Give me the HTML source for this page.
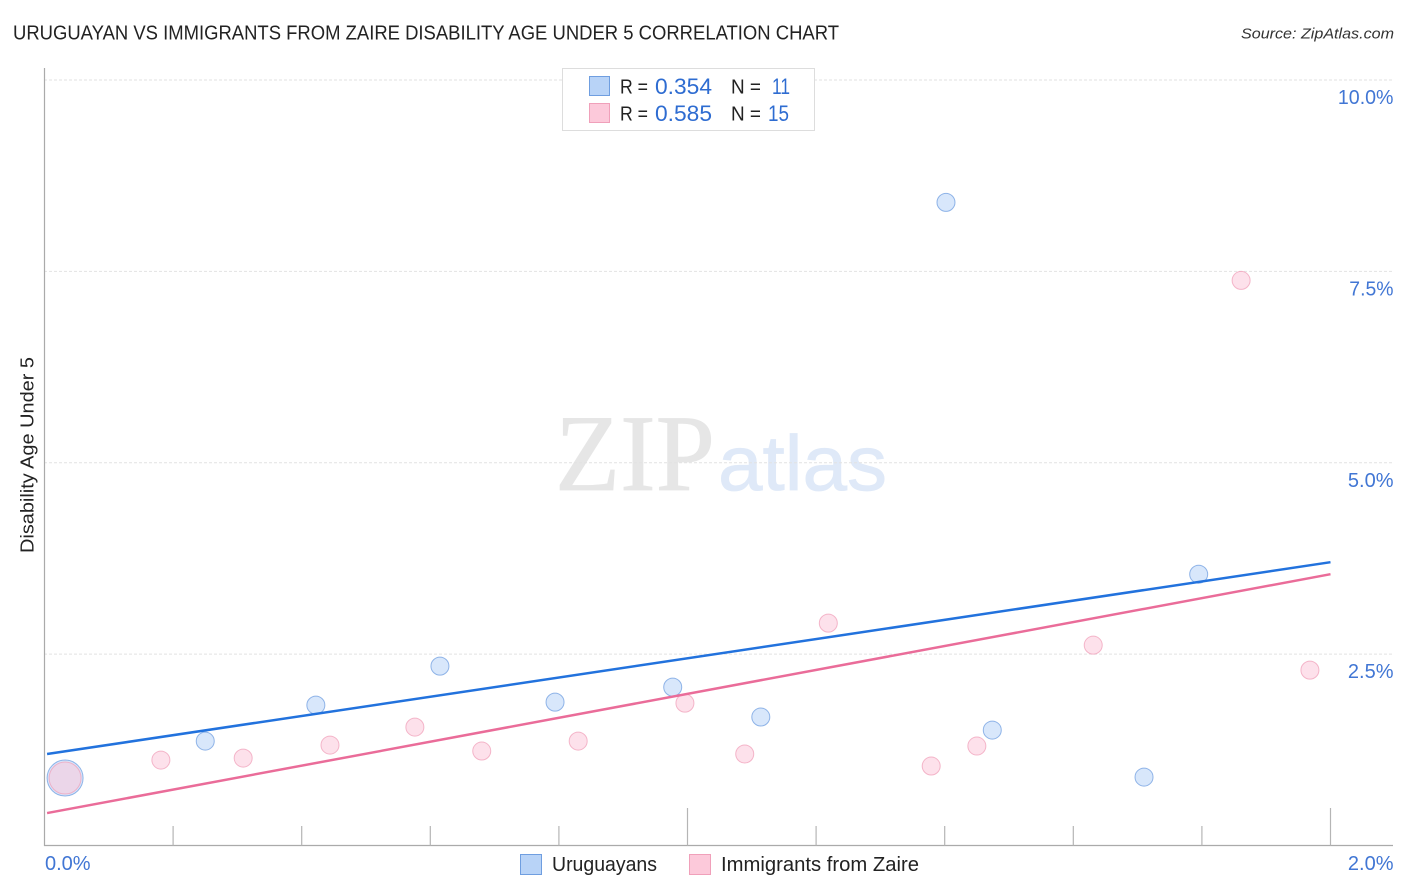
<!DOCTYPE html>
<html lang="en">
<head>
<meta charset="utf-8">
<title>Uruguayan vs Immigrants from Zaire Disability Age Under 5 Correlation Chart</title>
<style>
  html, body { margin: 0; padding: 0; background: #fff; }
  body { width: 1406px; height: 892px; overflow: hidden; }
  svg { display: block; font-family: "Liberation Sans", sans-serif; }
</style>
</head>
<body>
<svg id="chart" width="1406" height="892" viewBox="0 0 1406 892" xmlns="http://www.w3.org/2000/svg">
  <rect x="0" y="0" width="1406" height="892" fill="#ffffff"/>
  <text x="13" y="39.5" font-size="20" fill="#222222" textLength="826" lengthAdjust="spacingAndGlyphs">URUGUAYAN VS IMMIGRANTS FROM ZAIRE DISABILITY AGE UNDER 5 CORRELATION CHART</text>
  <text x="1241" y="38.5" font-size="15" font-style="italic" fill="#333333" textLength="153" lengthAdjust="spacingAndGlyphs">Source: ZipAtlas.com</text>

  <g>
    <text x="555" y="490" font-family="'Liberation Serif', serif" font-size="109" fill="#e6e6e6" stroke="#e6e6e6" stroke-width="0.8" textLength="160" lengthAdjust="spacingAndGlyphs">ZIP</text>
    <text x="718" y="490" font-size="78" fill="#dfe9f8" stroke="#dfe9f8" stroke-width="0.8" textLength="169" lengthAdjust="spacingAndGlyphs">atlas</text>
  </g>

  <g id="grid"></g>
  <g id="axes"></g>
  <g id="points-a"></g>
  <g id="points-b"></g>
  <g id="lines"></g>

  <text transform="translate(33.5 553) rotate(-90)" font-size="18" fill="#222222" textLength="196" lengthAdjust="spacingAndGlyphs">Disability Age Under 5</text>

  <g>
    <rect x="562.5" y="68.5" width="252" height="62" fill="#ffffff" stroke="#dddddd"/>
    <rect x="589.5" y="76.5" width="20" height="19" fill="#b8d3f7" stroke="#6f9ee0"/>
    <rect x="589.5" y="103.5" width="20" height="19" fill="#fcc9da" stroke="#f0a0ba"/>
    <text x="620" y="93.5" font-size="20" fill="#222222" textLength="28" lengthAdjust="spacingAndGlyphs">R =</text>
    <text x="655" y="94" font-size="22" fill="#2e6cd1" textLength="57" lengthAdjust="spacingAndGlyphs">0.354</text>
    <text x="731" y="93.5" font-size="20" fill="#222222" textLength="30" lengthAdjust="spacingAndGlyphs">N =</text>
    <text x="772" y="94" font-size="22" fill="#2e6cd1" textLength="18" lengthAdjust="spacingAndGlyphs">11</text>
    <text x="620" y="120.5" font-size="20" fill="#222222" textLength="28" lengthAdjust="spacingAndGlyphs">R =</text>
    <text x="655" y="121" font-size="22" fill="#2e6cd1" textLength="57" lengthAdjust="spacingAndGlyphs">0.585</text>
    <text x="731" y="120.5" font-size="20" fill="#222222" textLength="30" lengthAdjust="spacingAndGlyphs">N =</text>
    <text x="768" y="121" font-size="22" fill="#2e6cd1" textLength="21" lengthAdjust="spacingAndGlyphs">15</text>
  </g>

  <g>
    <rect x="520.5" y="854.5" width="21" height="20" fill="#b8d3f7" stroke="#6f9ee0"/>
    <text x="552" y="871" font-size="20" fill="#222222" textLength="105" lengthAdjust="spacingAndGlyphs">Uruguayans</text>
    <rect x="689.5" y="854.5" width="21" height="20" fill="#fcc9da" stroke="#f0a0ba"/>
    <text x="721" y="871" font-size="20" fill="#222222" textLength="198" lengthAdjust="spacingAndGlyphs">Immigrants from Zaire</text>
  </g>
</svg>
<script>
// Chart data
const xTickValues = [0.2, 0.4, 0.6, 0.8, 1.0, 1.2, 1.4, 1.6, 1.8, 2.0];
const majorXTicks = [1.0, 2.0];
const yTickValues = [2.5, 5.0, 7.5, 10.0];
const yTickLabels = ["2.5%", "5.0%", "7.5%", "10.0%"];
const xEndLabels = ["0.0%", "2.0%"];

const uruguayanX = [0.250, 0.422, 0.615, 0.794, 0.977, 1.114, 1.402, 1.474, 1.710, 1.795];
const uruguayanY = [1.364, 1.834, 2.343, 1.873, 2.069, 1.678, 8.401, 1.508, 0.894, 3.544];
const uruguayanLargeX = 0.032;
const uruguayanLargeY = 0.881;

const zaireX = [0.181, 0.309, 0.444, 0.576, 0.680, 0.830, 0.996, 1.089, 1.219, 1.379, 1.450, 1.631, 1.861, 1.968];
const zaireY = [1.116, 1.142, 1.312, 1.547, 1.234, 1.364, 1.860, 1.195, 2.905, 1.038, 1.299, 2.617, 7.382, 2.291];
const zaireLargeX = 0.032;
const zaireLargeY = 0.881;

const uruguayanTrendX = [0.004, 2.0];
const uruguayanTrendY = [1.195, 3.701];
const zaireTrendX = [0.004, 2.0];
const zaireTrendY = [0.424, 3.544];

// Axis functions
function xScale(v) { return 44.5 + v * 643; }
function yScale(v) { return 845.5 - v * 76.55; }

const SVGNS = 'http://www.w3.org/2000/svg';
function make(tag, parentId, attrs) {
  const el = document.createElementNS(SVGNS, tag);
  for (const k in attrs) el.setAttribute(k, attrs[k]);
  document.getElementById(parentId).appendChild(el);
  return el;
}

// Fitted label width to mimic the reference typeface
function fitLabel(el, text) {
  const em = { '%': 0.88, '.': 0.26 };
  let w = 0;
  for (const c of text) {
    if (c in em) w += em[c] * 20;
    else if (c === '1' || c === '7') w += 0.5 * 20;
    else w += 0.57 * 20;
  }
  el.setAttribute('textLength', w.toFixed(1));
  el.setAttribute('lengthAdjust', 'spacingAndGlyphs');
}

// Gridlines and y tick labels
yTickValues.forEach(function (v, i) {
  const line = make('line', 'grid', { x1: 44, x2: 1393, y1: yScale(v), y2: yScale(v), stroke: '#e2e2e2', 'stroke-width': 1, 'stroke-dasharray': '3 2' });
  
  
  const label = make('text', 'axes', { x: 1393.5, y: yScale(v) + 24, 'text-anchor': 'end', 'font-size': 20, fill: '#4176d4' });
  label.textContent = yTickLabels[i];
  fitLabel(label, yTickLabels[i]);
  
  
});

// Axes
const yAxis = make('line', 'axes', { x1: 44.5, x2: 44.5, y1: 68, y2: 846, stroke: '#aaaaaa', 'stroke-width': 1.2 });


const xAxis = make('line', 'axes', { x1: 44, x2: 1393, y1: 845.5, y2: 845.5, stroke: '#aaaaaa', 'stroke-width': 1.2 });



xTickValues.forEach(function (v) {
  const isMajor = majorXTicks.indexOf(v) !== -1;
  const tick = make('line', 'axes', { x1: xScale(v), x2: xScale(v), y1: isMajor ? 808 : 826, y2: 845.5, stroke: '#b5b5b5', 'stroke-width': 1.2 });
  
  
});

const xLabelLeft = make('text', 'axes', { x: 45, y: 870, 'font-size': 20, fill: '#4176d4' });
xLabelLeft.textContent = xEndLabels[0];
fitLabel(xLabelLeft, xEndLabels[0]);


const xLabelRight = make('text', 'axes', { x: 1393.5, y: 870, 'text-anchor': 'end', 'font-size': 20, fill: '#4176d4' });
xLabelRight.textContent = xEndLabels[1];
fitLabel(xLabelRight, xEndLabels[1]);



// Points
uruguayanX.forEach(function (v, i) {
  const p = make('circle', 'points-a', { cx: xScale(v), cy: yScale(uruguayanY[i]), r: 9, fill: '#b8d3f7', 'fill-opacity': 0.55, stroke: '#6f9ee0', 'stroke-opacity': 0.75, 'stroke-width': 1 });
  
  
});
const bigA = make('circle', 'points-a', { cx: xScale(uruguayanLargeX), cy: yScale(uruguayanLargeY), r: 18, fill: '#b8d3f7', 'fill-opacity': 0.55, stroke: '#6f9ee0', 'stroke-opacity': 0.75, 'stroke-width': 1 });



zaireX.forEach(function (v, i) {
  const p = make('circle', 'points-b', { cx: xScale(v), cy: yScale(zaireY[i]), r: 9, fill: '#fcc9da', 'fill-opacity': 0.55, stroke: '#f0a0ba', 'stroke-opacity': 0.75, 'stroke-width': 1 });
  
  
});
const bigB = make('circle', 'points-b', { cx: xScale(zaireLargeX), cy: yScale(zaireLargeY), r: 16, fill: '#fcc9da', 'fill-opacity': 0.55, stroke: '#f0a0ba', 'stroke-opacity': 0.75, 'stroke-width': 1 });



// Trend lines
const trendA = make('line', 'lines', { x1: xScale(uruguayanTrendX[0]), y1: yScale(uruguayanTrendY[0]), x2: xScale(uruguayanTrendX[1]), y2: yScale(uruguayanTrendY[1]), stroke: '#2272dd', 'stroke-width': 2.5 });


const trendB = make('line', 'lines', { x1: xScale(zaireTrendX[0]), y1: yScale(zaireTrendY[0]), x2: xScale(zaireTrendX[1]), y2: yScale(zaireTrendY[1]), stroke: '#ea6c99', 'stroke-width': 2.5 });


</script>
</body>
</html>
